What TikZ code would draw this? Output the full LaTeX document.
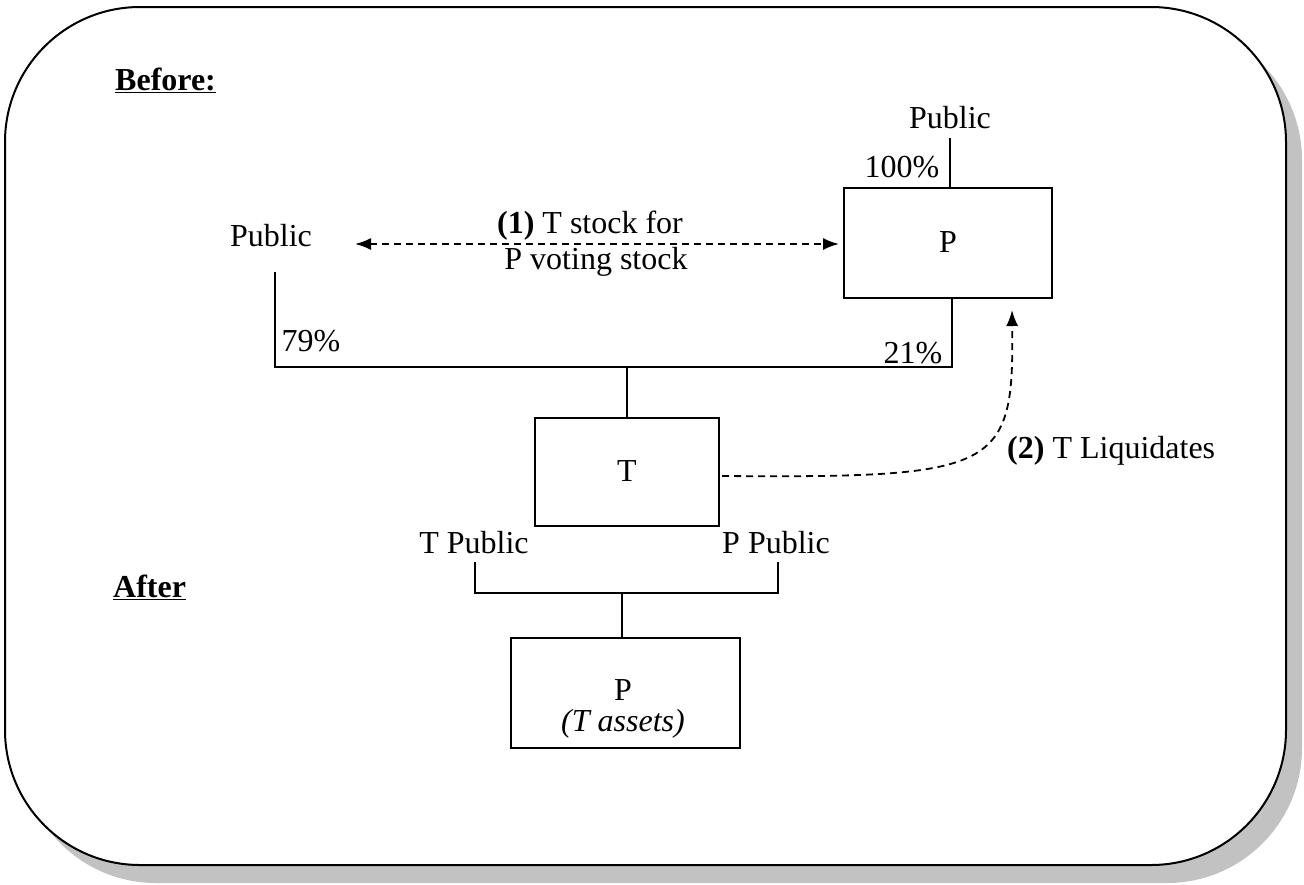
\documentclass[tikz,border=0pt]{standalone}
\usepackage{fontspec}
\setmainfont{Liberation Serif}
\usetikzlibrary{arrows.meta}
\begin{document}
\begin{tikzpicture}[x=1pt,y=-1pt,
  lbl/.style={inner sep=0pt,font=\fontsize{32}{35}\selectfont},
  box/.style={draw,line width=2pt},
  wire/.style={line width=2pt},
  dsh/.style={line width=1.8pt,dash pattern=on 7pt off 5pt},
  tip/.style={-{Latex[length=16pt,width=12pt]}}]
\useasboundingbox (0,0) rectangle (1304,884);
% frame with shadow
\fill[black!24,rounded corners=135pt] (21,25) rectangle (1302,883);
\draw[fill=white,line width=2pt,rounded corners=135pt] (5,7) rectangle (1286,865);
% headings
\node[lbl,anchor=base west,font=\fontsize{32}{35}\selectfont\bfseries] (before) at (115,90) {\underline{Before:}};
\node[lbl,anchor=base west,font=\fontsize{32}{35}\selectfont\bfseries] (after) at (113,597) {\underline{After}};
% top part
\node[lbl] (pubtop) at (950,118) {Public};
\node[lbl] (hundred) at (902,167) {100\%};
\node[box,minimum width=208pt,minimum height=110pt,lbl] (P) at (948,242.5) {P};
\draw[wire] (950,138) -- (P.north -| 950,0);
\node[lbl] (publeft) at (271,236) {Public};
\node[lbl] (l1) at (590,226) {\textbf{(1)} T stock for};
\node[lbl] (l2) at (596,262) {P voting stock};
\coordinate (a1) at (355,244);
\coordinate (a2) at (839,244);
\draw[dsh,{Latex[length=16pt,width=12pt]}-{Latex[length=16pt,width=12pt]}] (a1) -- (a2);
% ownership lines
\coordinate (pl) at (275,272);
\coordinate (jl) at (275,367);
\coordinate (jr) at (952,367);
\draw[wire] (pl) -- (jl) -- (jr) -- (P.south -| jr);
\node[lbl] (p79) at (311,341) {79\%};
\node[lbl] (p21) at (913,353) {21\%};
% T box
\node[box,minimum width=184pt,minimum height=108pt,lbl] (T) at (627,471.5) {T};
\coordinate (jm) at (627,367);
\draw[wire] (jm) -- (T.north);
\coordinate (tc) at (722,476);
\coordinate (pa) at (1012,310);
\draw[dsh,tip] (tc) .. controls (1000,478) and (1014,470) .. (pa);
\node[lbl,anchor=west] (liq) at (1007,451) {\textbf{(2)} T Liquidates};
% after
\node[lbl] (tpub) at (474,543) {T Public};
\node[lbl] (ppub) at (776,543) {P Public};
\node[box,minimum width=229pt,minimum height=110pt] (P2) at (625.5,693) {};
\node[lbl] (P2a) at (623,690) {P};
\node[lbl,font=\fontsize{32}{35}\selectfont\itshape] (P2b) at (623,724) {(T assets)};
\coordinate (bl) at (475,562);
\coordinate (br) at (778,562);
\coordinate (bl2) at (475,593);
\coordinate (br2) at (778,593);
\coordinate (bm) at (622,593);
\draw[wire] (bl) -- (bl2) -- (br2) -- (br);
\draw[wire] (bm) -- (P2.north -| bm);
\end{tikzpicture}
\end{document}
